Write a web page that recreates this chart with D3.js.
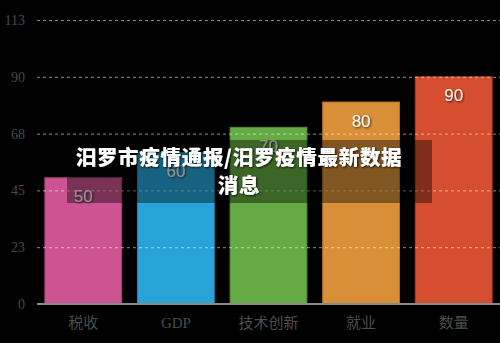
<!DOCTYPE html>
<html>
<head>
<meta charset="utf-8">
<script src="https://cdn.jsdelivr.net/npm/d3@7/dist/d3.min.js"></script>
<style>
  html, body { margin: 0; padding: 0; background: #000; }
  svg { display: block; }
</style>
</head>
<body>
<script>
// Chart data
const categories = ["税收", "GDP", "技术创新", "就业", "数量"];
const values = [50, 60, 70, 80, 90];
const barColors = ["#cc5492", "#28a3d8", "#65aa44", "#d98f38", "#d64e30"];
const tickValues = [0, 22.5, 45, 67.5, 90, 112.5];
const tickLabels = ["0", "23", "45", "68", "90", "113"];
const titleLines = ["汨罗市疫情通报/汨罗疫情最新数据", "消息"];

const W = 500, H = 343;
const margin = { left: 37, right: 0, top: 20, bottom: 39 };

const svg = d3.select("body").append("svg")
  .attr("width", W).attr("height", H);

const defs = svg.append("defs");
const sh = defs.append("filter").attr("id", "lblShadow")
  .attr("x", "-30%").attr("y", "-30%").attr("width", "160%").attr("height", "160%");
sh.append("feDropShadow").attr("dx", 1).attr("dy", 1).attr("stdDeviation", 0.8)
  .attr("flood-color", "#000").attr("flood-opacity", 0.7);

const x = d3.scaleBand()
  .domain(categories)
  .range([margin.left, W - margin.right])
  .paddingInner(0.17)
  .paddingOuter(0.085);

const y = d3.scaleLinear()
  .domain([0, 112.5])
  .range([H - margin.bottom, margin.top]);

// Bars
svg.append("g").selectAll("rect")
  .data(categories)
  .join("rect")
  .attr("x", d => x(d))
  .attr("y", (d, i) => y(values[i]))
  .attr("width", x.bandwidth())
  .attr("height", (d, i) => y(0) - y(values[i]))
  .attr("fill", (d, i) => barColors[i])
  .attr("stroke", (d, i) => d3.color(barColors[i]).darker(0.6))
  .attr("stroke-width", 1);

// Value labels inside the bar tops
svg.append("g").selectAll("text")
  .data(categories)
  .join("text")
  .attr("x", d => x(d) + x.bandwidth() / 2)
  .attr("y", (d, i) => y(values[i]) + 19)
  .attr("text-anchor", "middle")
  .attr("dominant-baseline", "central")
  .attr("font-family", "Liberation Sans, Arial, sans-serif")
  .attr("font-size", 17)
  .attr("fill", "#f2f2f2")
  .attr("filter", "url(#lblShadow)")
  .text((d, i) => values[i]);

// Y axis (labels + dashed grid drawn over the bars)
const yAxis = d3.axisLeft(y)
  .tickValues(tickValues)
  .tickFormat((d, i) => tickLabels[i])
  .tickSize(-(W - margin.left - margin.right))
  .tickPadding(12);

const gy = svg.append("g")
  .attr("transform", `translate(${margin.left},0)`)
  .call(yAxis);
gy.select(".domain").remove();
gy.selectAll(".tick line")
  .attr("stroke", "#fff")
  .attr("stroke-opacity", d => d === 0 ? 0 : 0.55)
  .attr("stroke-dasharray", "3,3");
gy.selectAll(".tick text")
  .attr("font-family", "Liberation Serif, Times New Roman, serif")
  .attr("font-size", 14)
  .attr("fill", "#4a4a4a");

// X axis baseline and category labels
const xAxis = d3.axisBottom(x).tickSize(0).tickPadding(13);
const gx = svg.append("g")
  .attr("transform", `translate(0,${y(0)})`)
  .call(xAxis);
gx.select(".domain")
  .attr("stroke", "#8a8a8a")
  .attr("stroke-width", 2)
  .attr("d", `M${margin.left},0H${W}`);
gx.selectAll(".tick text")
  .attr("font-family", "Liberation Serif, Noto Sans CJK SC, serif")
  .attr("font-size", 15)
  .attr("fill", "#4d4d4d");

// Title banner
svg.append("rect")
  .attr("x", 67).attr("y", 140)
  .attr("width", 365).attr("height", 63)
  .attr("fill", "#000").attr("fill-opacity", 0.4);

const tf = defs.append("filter").attr("id", "titleShadow")
  .attr("x", "-10%").attr("y", "-30%").attr("width", "120%").attr("height", "160%");
tf.append("feDropShadow").attr("dx", 1).attr("dy", 1).attr("stdDeviation", 1)
  .attr("flood-color", "#000").attr("flood-opacity", 0.8);

svg.append("g").selectAll("text")
  .data(titleLines)
  .join("text")
  .attr("x", 239)
  .attr("y", (d, i) => 156 + i * 28)
  .attr("text-anchor", "middle")
  .attr("dominant-baseline", "central")
  .attr("font-family", "Noto Sans CJK SC, sans-serif")
  .attr("font-weight", "900")
  .attr("font-size", 20.5)
  .attr("letter-spacing", 0.7)
  .attr("fill", "#fff")
  .attr("filter", "url(#titleShadow)")
  .text(d => d);
</script>
</body>
</html>
